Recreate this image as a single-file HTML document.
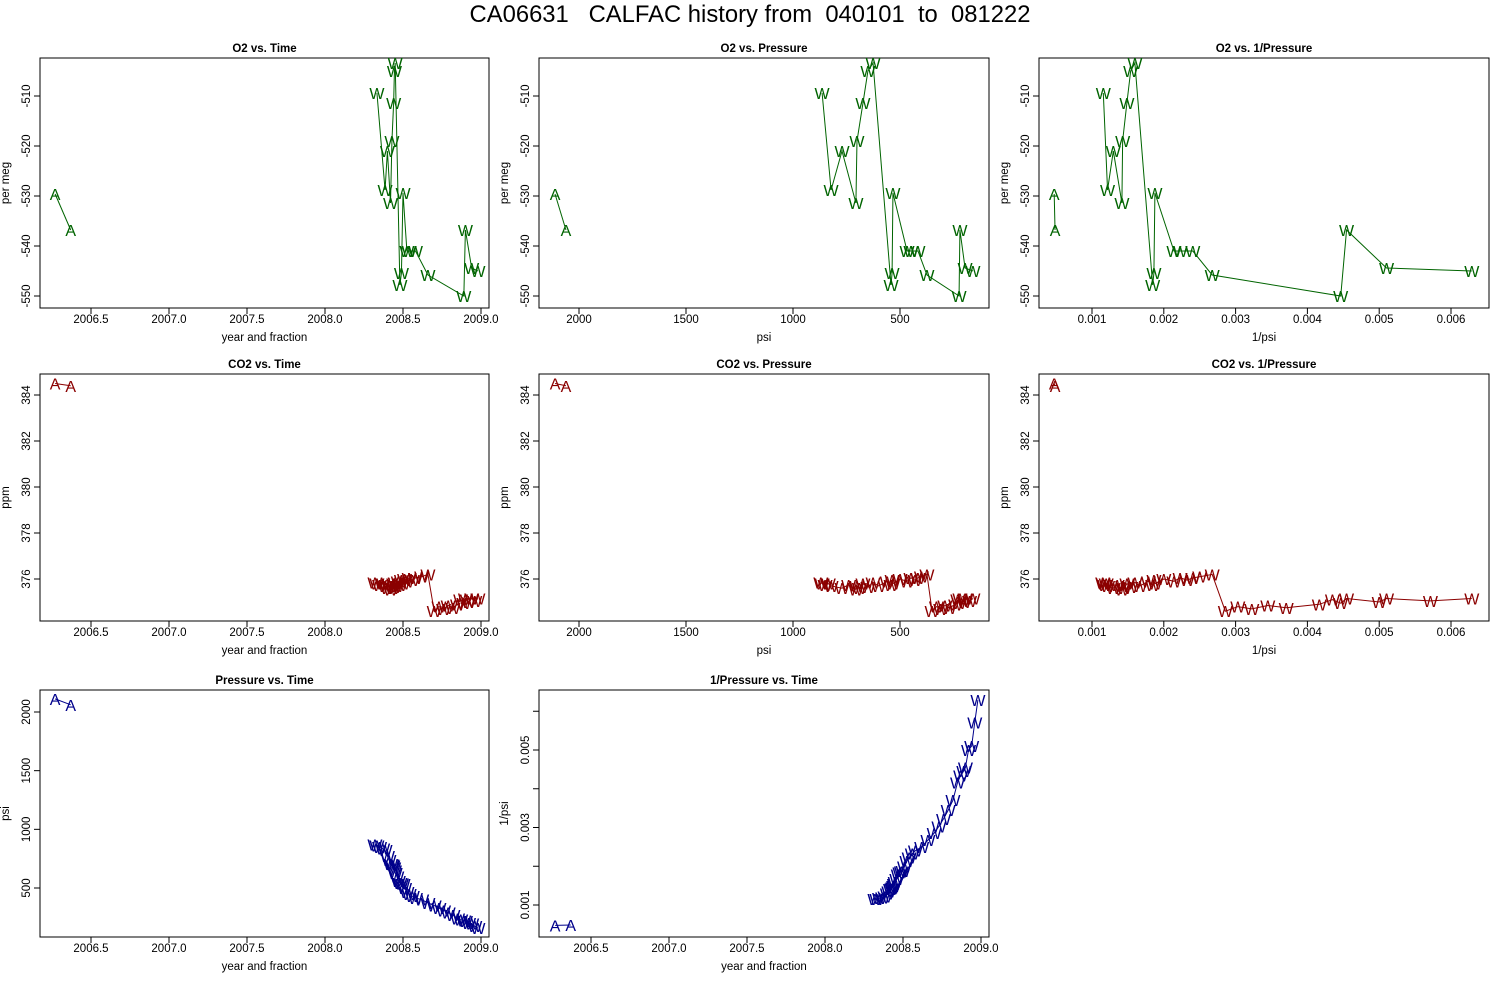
<!DOCTYPE html>
<html><head><meta charset="utf-8"><style>
body{margin:0;background:#fff;}
svg text{font-family:"Liberation Sans",Arial,sans-serif;}
</style></head><body>
<svg id="chart" width="1500" height="1000" xmlns="http://www.w3.org/2000/svg">
<rect width="1500" height="1000" fill="#fff"/>
<text x="750" y="22" text-anchor="middle" font-size="23.8" xml:space="preserve">CA06631   CALFAC history from  040101  to  081222</text>
</svg>
<script>
// data (time, pressure, CO2, O2, label)
const times = [2006.27,2006.37,
2008.32,2008.333,2008.35,2008.37,2008.385,2008.40,2008.41,2008.42,2008.429,2008.435,2008.44,2008.445,2008.45,2008.46,2008.47,2008.48,2008.49,2008.50,2008.51,2008.525,2008.54,2008.56,2008.58,2008.62,2008.66,2008.70,2008.73,2008.76,2008.79,2008.82,2008.85,2008.87,2008.89,2008.90,2008.92,2008.94,2008.96,2008.98];
const psiValues = [2112,2061,
870,864,850,835,822,771,740,706,701,690,673,650,626,600,560,542,537,533,500,467,449,430,416,400,374,350,330,310,290,270,240,230,224,220,200,196,175,159];
const co2Values = [384.5,384.4,
375.85,375.8,375.75,375.8,375.7,375.6,375.75,375.55,375.7,375.6,375.8,375.65,375.85,375.7,375.9,375.75,375.95,375.8,376.0,375.9,376.05,375.95,376.05,376.1,376.2,374.6,374.8,374.7,374.85,374.75,374.9,375.1,374.95,375.15,375.0,375.15,375.05,375.15];
const o2Values = [-529.6,-536.8,
null,-509.4,null,null,-528.8,-521,null,-531.4,-519,null,-511.4,-505,-503.4,null,null,-547.8,-545.4,-529.4,null,-541,-541,null,-541,null,-545.8,null,null,null,null,null,null,null,-550,-536.8,null,-544.4,null,-545];
const labels = ['A','A','W','W','W','W','W','W','W','W','W','W','W','W','W','W','W','W','W','W','W','W','W','W','W','W','W','W','W','W','W','W','W','W','W','W','W','W','W','W'];
const timeTicks = [2006.5,2007.0,2007.5,2008.0,2008.5,2009.0];
const psiTicks = [2000,1500,1000,500];
const invTicks = [0.001,0.002,0.003,0.004,0.005,0.006];
const o2Ticks = [-510,-520,-530,-540,-550];
const co2Ticks = [376,378,380,382,384];
const psiYTicks = [500,1000,1500,2000];
const invYTicks = [0.001,0.002,0.003,0.004,0.005,0.006];

const svg = document.getElementById('chart');
const NS = 'http://www.w3.org/2000/svg';
function mk(tag, attrs){const e=document.createElementNS(NS,tag);for(const k in attrs)e.setAttribute(k,attrs[k]);return e;}
function lin(v1,p1,v2,p2){return v=>p1+(v-v1)*(p2-p1)/(v2-v1);}

const GREEN='#006400', RED='#8b0000', BLUE='#00008b';
const getT=i=>times[i], getP=i=>psiValues[i], getInv=i=>1/psiValues[i], getC=i=>co2Values[i], getO=i=>o2Values[i];
const fmtT=v=>v.toFixed(1);
const panels=[
 {name:'o2-vs-time',title:'O2 vs. Time',box:[40,58,489,308],gx:getT,gy:getO,sx:lin(2008,325,2009,481),sy:lin(-510,96,-550,296),xt:timeTicks,xf:fmtT,yt:o2Ticks,yf:v=>v,xl:'year and fraction',yl:'per meg',c:GREEN},
 {name:'o2-vs-pressure',title:'O2 vs. Pressure',box:[539,58,989,308],gx:getP,gy:getO,sx:lin(2000,579,500,900),sy:lin(-510,96,-550,296),xt:psiTicks,xf:v=>v,yt:o2Ticks,yf:v=>v,xl:'psi',yl:'per meg',c:GREEN},
 {name:'o2-vs-inv-pressure',title:'O2 vs. 1/Pressure',box:[1039,58,1489,308],gx:getInv,gy:getO,sx:lin(0.001,1092,0.006,1451),sy:lin(-510,96,-550,296),xt:invTicks,xf:v=>v.toFixed(3),yt:o2Ticks,yf:v=>v,xl:'1/psi',yl:'per meg',c:GREEN},
 {name:'co2-vs-time',title:'CO2 vs. Time',box:[40,374,489,621],gx:getT,gy:getC,sx:lin(2008,325,2009,481),sy:lin(376,579,384,395),xt:timeTicks,xf:fmtT,yt:co2Ticks,yf:v=>v,xl:'year and fraction',yl:'ppm',c:RED},
 {name:'co2-vs-pressure',title:'CO2 vs. Pressure',box:[539,374,989,621],gx:getP,gy:getC,sx:lin(2000,579,500,900),sy:lin(376,579,384,395),xt:psiTicks,xf:v=>v,yt:co2Ticks,yf:v=>v,xl:'psi',yl:'ppm',c:RED},
 {name:'co2-vs-inv-pressure',title:'CO2 vs. 1/Pressure',box:[1039,374,1489,621],gx:getInv,gy:getC,sx:lin(0.001,1092,0.006,1451),sy:lin(376,579,384,395),xt:invTicks,xf:v=>v.toFixed(3),yt:co2Ticks,yf:v=>v,xl:'1/psi',yl:'ppm',c:RED},
 {name:'pressure-vs-time',title:'Pressure vs. Time',box:[40,690,489,937],gx:getT,gy:getP,sx:lin(2008,325,2009,481),sy:lin(500,888,2000,712),xt:timeTicks,xf:fmtT,yt:psiYTicks,yf:v=>v,xl:'year and fraction',yl:'psi',c:BLUE},
 {name:'inv-pressure-vs-time',title:'1/Pressure vs. Time',box:[539,690,989,937],gx:getT,gy:getInv,sx:lin(2008,825,2009,981),sy:lin(0.001,905,0.005,750),xt:timeTicks,xf:fmtT,yt:invYTicks,yf:(v,i)=>(i%2===0?v.toFixed(3):''),xl:'year and fraction',yl:'1/psi',c:BLUE}
];

panels.forEach(p=>{
 const [x0,y0,x1,y1]=p.box;
 const g=mk('g',{});
 
 
 svg.appendChild(g);
 const t=mk('text',{x:(x0+x1)/2,y:y0-6,'text-anchor':'middle','font-size':11.5,'font-weight':'bold'});
 
 
 t.textContent=p.title; g.appendChild(t);
 const b=mk('rect',{x:x0,y:y0,width:x1-x0,height:y1-y0,fill:'none',stroke:'#000','stroke-width':1});
 
 
 g.appendChild(b);
 const xs=p.xt.map(p.sx);
 const xa=mk('line',{x1:xs[0],x2:xs[xs.length-1],y1:y1,y2:y1,stroke:'#000'});
 
 
 g.appendChild(xa);
 p.xt.forEach((v,i)=>{
  const x=p.sx(v);
  g.appendChild(mk('line',{x1:x,x2:x,y1:y1,y2:y1+6,stroke:'#000'}));
  const tl=mk('text',{x:x,y:y1+15,'text-anchor':'middle','font-size':11.5});
  
  
  tl.textContent=p.xf(v); g.appendChild(tl);
 });
 const xl=mk('text',{x:(x0+x1)/2,y:y1+33,'text-anchor':'middle','font-size':11.5});
 
 
 xl.textContent=p.xl; g.appendChild(xl);
 const ys=p.yt.map(p.sy);
 const ya=mk('line',{x1:x0,x2:x0,y1:Math.min(...ys),y2:Math.max(...ys),stroke:'#000'});
 
 
 g.appendChild(ya);
 p.yt.forEach((v,i)=>{
  const y=p.sy(v);
  g.appendChild(mk('line',{x1:x0-6,x2:x0,y1:y,y2:y,stroke:'#000'}));
  const s=p.yf(v,i);
  if(s!==''){
   const tl=mk('text',{x:x0-10,y:y,'text-anchor':'middle','font-size':11.5,transform:`rotate(-90 ${x0-10} ${y})`});
   
   
   tl.textContent=s; g.appendChild(tl);
  }
 });
 const yl=mk('text',{x:x0-31,y:(y0+y1)/2,'text-anchor':'middle','font-size':11.5,transform:`rotate(-90 ${x0-31} ${(y0+y1)/2})`});
 
 
 yl.textContent=p.yl; g.appendChild(yl);
 ['A','W'].forEach(lab=>{
  const idx=[];
  for(let i=0;i<times.length;i++){ if(labels[i]===lab && p.gy(i)!==null && p.gx(i)!==null && isFinite(p.gx(i))) idx.push(i); }
  const pts=idx.map(i=>[p.sx(p.gx(i)),p.sy(p.gy(i))]);
  const pl=mk('polyline',{points:pts.map(q=>q.join(',')).join(' '),fill:'none',stroke:p.c,'stroke-width':1});
  
  
  g.appendChild(pl);
  pts.forEach(q=>{
   const m=mk('text',{x:q[0],y:q[1]+6,'text-anchor':'middle','font-size':16,fill:p.c});
   
   
   m.textContent=lab; g.appendChild(m);
  });
 });
});
</script>
</body></html>
